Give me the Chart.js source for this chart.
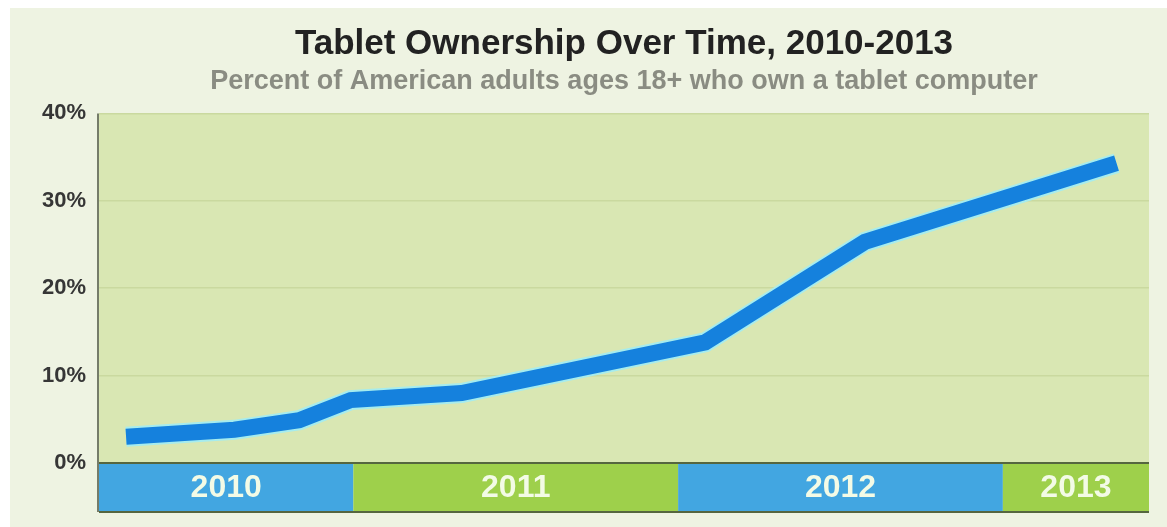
<!DOCTYPE html>
<html>
<head>
<meta charset="utf-8">
<script src="https://cdn.jsdelivr.net/npm/chart.js@4.4.0/dist/chart.umd.min.js"></script>
<style>
  body { margin: 0; background: #eef3e2; }
  #wrap { width: 1167px; height: 527px; }
</style>
</head>
<body>
<div id="wrap"><canvas id="tablet-chart" width="1167" height="527"></canvas></div>
<script>
// months counted from Jan 2010 (0 = Jan 2010)
const surveyMonths = [3.6, 7.6, 10.0, 11.9, 16.0, 25.0, 30.9, 40.2];
const ownershipPct = [3.0, 3.8, 4.9, 7.2, 8.0, 13.8, 25.3, 34.3];
const yTicks = [0, 10, 20, 30, 40];
const years = ["2010", "2011", "2012", "2013"];
const yearStarts = [0, 12, 24, 36];

const monthMin = 2.6;
const monthMax = 41.4;

const bgColor = '#eef3e2';
const plotColor = '#d9e7b3';
const lineBlue = '#1581dd';
const haloColor = '#a6ecee';
const bandColors = ['#42a6e1', '#9ed04b'];
const fontFamily = '"Liberation Sans", Arial, sans-serif';

const points = surveyMonths.map((m, i) => ({ x: m, y: ownershipPct[i] }));

// page and plot backgrounds
const backdrop = {
    id: 'backdrop',
    beforeDraw(chart) {
        const c = chart.ctx;
        const a = chart.chartArea;
        c.save();
        c.fillStyle = '#ffffff';
        c.fillRect(0, 0, chart.width, chart.height);
        c.fillStyle = bgColor;
        c.fillRect(10, 8, chart.width - 10, chart.height - 8);
        c.fillStyle = plotColor;
        c.fillRect(a.left, a.top, a.right - a.left, a.bottom - a.top);
        c.restore();
    }
};

// coloured year strip under the plot
const yearBand = {
    id: 'yearBand',
    afterDraw(chart) {
        const c = chart.ctx;
        const a = chart.chartArea;
        const xs = chart.scales.x;
        const top = a.bottom;
        const h = 49;
        c.save();
        years.forEach((yr, i) => {
            const from = Math.max(yearStarts[i], monthMin);
            const to = i < years.length - 1 ? yearStarts[i + 1] : monthMax;
            const x0 = xs.getPixelForValue(from);
            const x1 = xs.getPixelForValue(to);
            c.fillStyle = bandColors[i % 2];
            c.fillRect(x0, top, x1 - x0, h);
            c.fillStyle = '#f3fbe6';
            c.font = 'bold 32px ' + fontFamily;
            c.textAlign = 'center';
            c.textBaseline = 'middle';
            c.fillText(yr, (x0 + x1) / 2, top + h / 2 + 1);
        });
        c.strokeStyle = '#55663f';
        c.lineWidth = 2;
        c.beginPath();
        c.moveTo(a.left, top);
        c.lineTo(a.right, top);
        c.moveTo(a.left, top + h);
        c.lineTo(a.right, top + h);
        c.stroke();
        c.strokeStyle = '#4d5540';
        c.lineWidth = 1.5;
        c.beginPath();
        c.moveTo(a.left - 1, a.top);
        c.lineTo(a.left - 1, top + h);
        c.stroke();
        c.restore();
    }
};

new Chart(document.getElementById('tablet-chart'), {
    type: 'line',
    data: {
        datasets: [
            {
                data: points,
                borderColor: lineBlue,
                borderWidth: 16,
                borderCapStyle: 'butt',
                borderJoinStyle: 'miter',
                pointRadius: 0,
                tension: 0,
                order: 1,
            },
            {
                data: points,
                borderColor: haloColor,
                borderWidth: 20,
                borderCapStyle: 'butt',
                borderJoinStyle: 'miter',
                pointRadius: 0,
                tension: 0,
                order: 2,
            },
        ],
    },
    options: {
        responsive: false,
        animation: false,
        layout: {
            padding: { left: 0, right: 18, top: 0, bottom: 64 },
        },
        plugins: {
            legend: { display: false },
            tooltip: { enabled: false },
            title: {
                display: true,
                text: 'Tablet Ownership Over Time, 2010-2013',
                fullSize: false,
                color: '#222222',
                font: { family: fontFamily, size: 35, weight: 'bold' },
                padding: { top: 23, bottom: 0 },
            },
            subtitle: {
                display: true,
                text: 'Percent of American adults ages 18+ who own a tablet computer',
                fullSize: false,
                color: '#8a8c82',
                font: { family: fontFamily, size: 27, weight: 'bold' },
                padding: { top: 0, bottom: 16 },
            },
        },
        scales: {
            x: {
                type: 'linear',
                display: false,
                min: monthMin,
                max: monthMax,
            },
            y: {
                min: 0,
                max: 40,
                afterFit: (scale) => { scale.width = 99; },
                afterBuildTicks: (scale) => { scale.ticks = yTicks.map(v => ({ value: v })); },
                border: { display: false },
                grid: {
                    color: (ctx) => ctx.tick.value === 0 ? 'rgba(0,0,0,0)' : '#cad99f',
                    lineWidth: 1.5,
                    drawTicks: false,
                },
                ticks: {
                    padding: 13,
                    color: '#363636',
                    font: { family: fontFamily, size: 22, weight: 'bold' },
                    callback: (v) => v + '%',
                },
            },
        },
    },
    plugins: [backdrop, yearBand],
});
</script>
</body>
</html>
